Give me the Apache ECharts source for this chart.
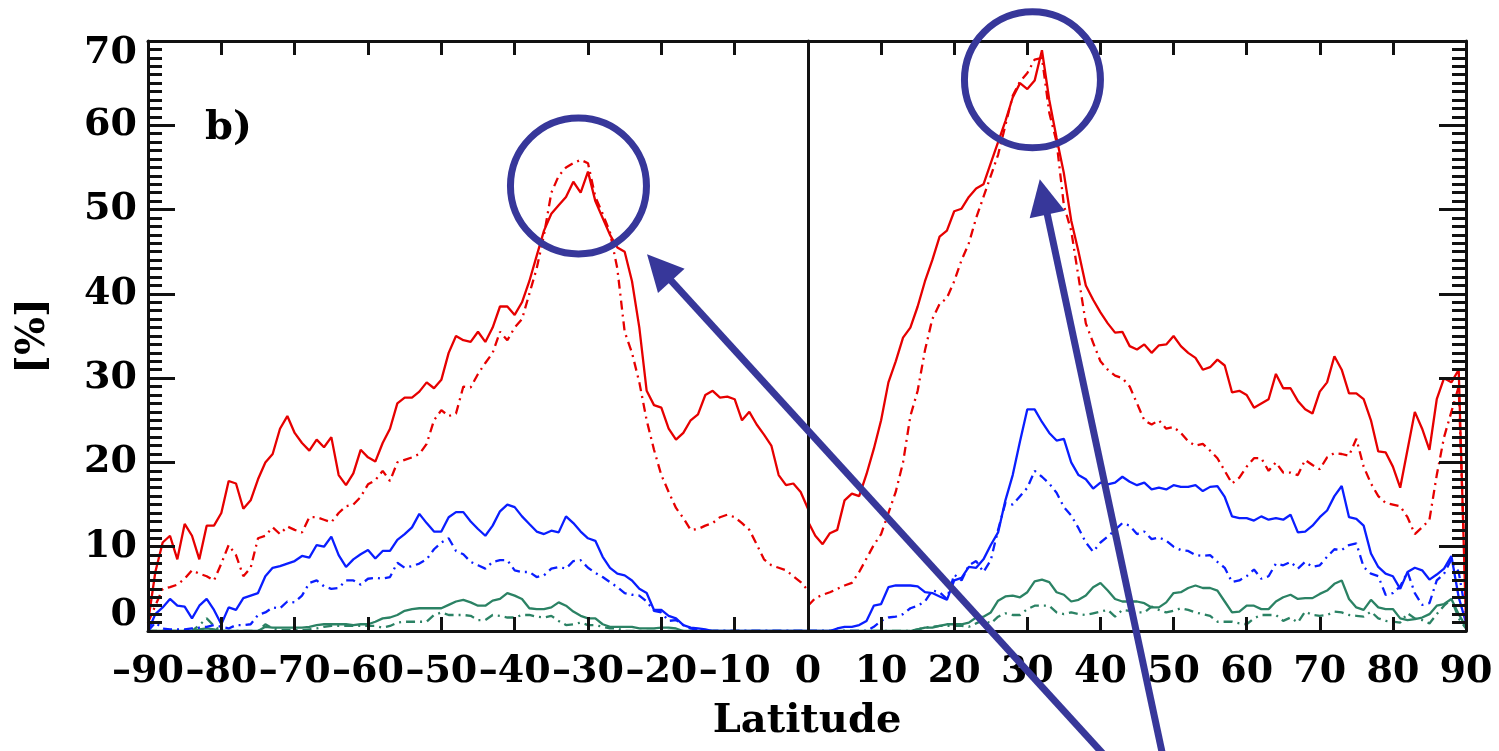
<!DOCTYPE html>
<html>
<head>
<meta charset="utf-8">
<script src="https://cdn.jsdelivr.net/npm/echarts@6/dist/echarts.min.js"></script>
<style>
  html, body { margin: 0; padding: 0; background: #fff; }
  #main { width: 1499px; height: 751px; }
</style>
</head>
<body>
<div id="main"></div>
<script>
// latitudes, southern panel (-90..0) and northern panel (0..90)
var latSouth = [
  -90, -89, -88, -87, -86, -85, -84, -83, -82, -81,
  -80, -79, -78, -77, -76, -75, -74, -73, -72, -71,
  -70, -69, -68, -67, -66, -65, -64, -63, -62, -61,
  -60, -59, -58, -57, -56, -55, -54, -53, -52, -51,
  -50, -49, -48, -47, -46, -45, -44, -43, -42, -41,
  -40, -39, -38, -37, -36, -35, -34, -33, -32, -31,
  -30, -29, -28, -27, -26, -25, -24, -23, -22, -21,
  -20, -19, -18, -17, -16, -15, -14, -13, -12, -11,
  -10, -9, -8, -7, -6, -5, -4, -3, -2, -1,
  0
];
var latNorth = [
  0, 1, 2, 3, 4, 5, 6, 7, 8, 9,
  10, 11, 12, 13, 14, 15, 16, 17, 18, 19,
  20, 21, 22, 23, 24, 25, 26, 27, 28, 29,
  30, 31, 32, 33, 34, 35, 36, 37, 38, 39,
  40, 41, 42, 43, 44, 45, 46, 47, 48, 49,
  50, 51, 52, 53, 54, 55, 56, 57, 58, 59,
  60, 61, 62, 63, 64, 65, 66, 67, 68, 69,
  70, 71, 72, 73, 74, 75, 76, 77, 78, 79,
  80, 81, 82, 83, 84, 85, 86, 87, 88, 89,
  90
];

// [%] values, southern hemisphere
var redSolidS = [
  1, 7, 10.5, 11.3, 8.5, 12.7, 11.3, 8.5, 12.5, 12.5,
  14, 17.8, 17.5, 14.5, 15.5, 18, 20, 21, 24, 25.5,
  23.5, 22.3, 21.4, 22.7, 21.8, 23, 18.5, 17.3, 18.7, 21.5,
  20.6, 20.1, 22.3, 24, 27, 27.7, 27.7, 28.4, 29.5, 28.8,
  29.8, 33, 35, 34.5, 34.3, 35.5, 34.3, 36, 38.5, 38.5,
  37.5, 39, 41.5, 44.5, 47.5, 49.5, 50.5, 51.5, 53.3, 52,
  54.5, 51, 49, 47, 45.5, 45, 41.5, 36, 28.5, 26.8,
  26.5, 24, 22.7, 23.5, 25, 25.7, 28, 28.5, 27.7, 27.8,
  27.5, 25, 26, 24.5, 23.3, 22, 18.5, 17.3, 17.5, 16.5,
  14.5
];
var redDashS = [
  1, 3, 5, 5.2, 5.5, 6.2, 7.2, 6.8, 6.5, 6,
  8, 10.2, 9, 6.5, 7.5, 11, 11.3, 12.3, 11.5, 12.4,
  12, 11.7, 13.5, 13.5, 13.2, 12.9, 14, 14.8, 15, 15.9,
  17.4, 17.9, 19, 17.8, 20, 20.3, 20.6, 21, 22.2, 25,
  26.2, 25.5, 25.8, 29, 28.9, 30.5, 31.8, 33, 35.5, 34.5,
  36, 37, 40, 43, 47, 52, 54, 55, 55.5, 55.9,
  55.5, 51.5, 49.5, 47.3, 43, 35.5, 33, 29.5, 25, 21.5,
  18.5, 16.5, 14.6, 13.4, 12, 12.1, 12.5, 12.8, 13.5, 13.8,
  13.5, 12.8, 12, 10.3, 8.5, 7.8, 7.5, 7.2, 6.5, 5.8,
  4.8
];
var blueSolidS = [
  0, 2, 2.8, 3.8, 3, 2.9, 1.5, 3, 3.8, 2.5,
  0.8, 2.8, 2.5, 3.9, 4.2, 4.5, 6.5, 7.5, 7.7, 8,
  8.3, 8.9, 8.7, 10.2, 10, 11.2, 9, 7.6, 8.5, 9.1,
  9.6, 8.6, 9.5, 9.5, 10.8, 11.5, 12.3, 13.9, 12.8, 11.8,
  11.8, 13.5, 14.1, 14.1, 13, 12.1, 11.3, 12.5, 14.2, 15,
  14.7, 13.6, 12.7, 11.8, 11.5, 11.9, 11.7, 13.6, 12.8, 11.8,
  11, 10.7, 8.8, 7.5, 6.8, 6.6, 6, 5, 4.5, 2.5,
  2.5, 1.8, 1.5, 0.7, 0.4, 0.3, 0.2, 0, 0, 0,
  0, 0, 0, 0, 0, 0, 0, 0, 0, 0,
  0
];
var blueDashS = [
  0, 1, 0.3, 0.2, 0.2, 0.2, 0.3, 0.4, 0.5, 0.7,
  0.5, 0.3, 0.7, 0.7, 0.8, 1.9, 2.2, 2.8, 2.7, 3.5,
  3.4, 4.2, 5.7, 6, 5.3, 5, 5.1, 6, 6, 5.5,
  6.2, 6.3, 6.2, 6.4, 8.1, 7.5, 7.7, 8, 8.5, 9.7,
  10.5, 11, 9.5, 9.1, 8.2, 7.8, 7.4, 8.2, 8.4, 8.4,
  7.2, 7, 7, 6.4, 6.6, 7.4, 7.6, 7.4, 8.3, 8.4,
  7.5, 6.9, 6.4, 5.8, 5.2, 4.5, 4.3, 4.2, 3.5, 2.4,
  2.2, 1.2, 1.3, 0.7, 0.3, 0.1, 0, 0, 0, 0,
  0, 0, 0, 0, 0, 0, 0, 0, 0, 0,
  0
];
var greenSolidS = [
  0, 0, 0, 0, 0, 0, 0, 0.2, 0.3, 0.2,
  0, 0, 0, 0, 0, 0, 0.5, 0.4, 0.4, 0.4,
  0.4, 0.4, 0.5, 0.7, 0.8, 0.8, 0.8, 0.8, 0.7, 0.8,
  0.8, 1.1, 1.5, 1.6, 1.9, 2.4, 2.6, 2.7, 2.7, 2.7,
  2.7, 3.1, 3.5, 3.7, 3.4, 3, 3, 3.6, 3.8, 4.5,
  4.2, 3.8, 2.7, 2.6, 2.6, 2.8, 3.4, 3, 2.3, 1.8,
  1.5, 1.5, 0.8, 0.5, 0.5, 0.5, 0.5, 0.3, 0.3, 0.3,
  0.4, 0.4, 0.3, 0, 0, 0, 0, 0, 0, 0,
  0, 0, 0, 0, 0, 0, 0, 0, 0, 0,
  0
];
var greenDashS = [
  0, 0, 0, 0, 0, 0, 0, 0.7, 1.5, 0.6,
  0, 0, 0, 0, 0, 0, 0.8, 0.3, 0.1, 0.1,
  0.1, 0.1, 0.2, 0.3, 0.5, 0.6, 0.6, 0.6, 0.6, 0.6,
  0.6, 0.6, 0.4, 0.6, 1, 1.1, 1.1, 1.1, 1.1, 1.9,
  2.2, 1.9, 1.9, 1.9, 1.8, 1.3, 1.3, 1.9, 1.8, 1.6,
  1.6, 1.9, 1.9, 1.7, 1.6, 1.8, 1.2, 0.7, 0.8, 1,
  0.7, 0.7, 0.5, 0.3, 0.3, 0, 0, 0, 0, 0,
  0, 0, 0, 0, 0, 0, 0, 0, 0, 0,
  0, 0, 0, 0, 0, 0, 0, 0, 0, 0,
  0
];

// [%] values, northern hemisphere
var redSolidN = [
  13, 11.3, 10.3, 11.6, 12, 15.5, 16.3, 16, 18.6, 21.6,
  25, 29.5, 32, 34.8, 36, 38.5, 41.5, 44, 46.8, 47.5,
  49.8, 50.1, 51.5, 52.5, 53, 55.5, 58, 60.5, 63.3, 65,
  64.3, 65.3, 68.9, 63, 58.5, 54.3, 48.7, 45, 41, 39.3,
  37.8, 36.5, 35.4, 35.5, 33.8, 33.4, 34, 33, 33.9, 34,
  35, 33.8, 33, 32.4, 31, 31.3, 32.2, 31.5, 28.3, 28.5,
  28, 26.5, 27, 27.5, 30.5, 28.8, 28.8, 27.3, 26.3, 25.8,
  28.4, 29.5, 32.6, 31, 28.2, 28.2, 27.5, 25, 21.3, 21.2,
  19.5, 17, 21.5, 26, 24, 21.5, 27.5, 30, 29.5, 31,
  1
];
var redDashN = [
  3, 3.9, 4.3, 4.6, 5, 5.4, 5.7, 7, 8.6, 10.2,
  11.5, 14, 16.5, 20, 25.5, 28.5, 33.3, 37, 38.8, 39.5,
  41.5, 44, 46, 49, 51.5, 54, 56.5, 60, 63.5, 65.2,
  66.2, 67.8, 68, 61.5, 58, 50.5, 47.5, 42, 36.5, 34.2,
  32, 31, 30.3, 30, 29, 27, 25, 24.5, 25, 24,
  24.2, 23.5, 22.5, 22, 22.2, 21.4, 20.5, 19, 17.5, 18.2,
  19.5, 20.5, 20.5, 19, 20, 18.8, 18.8, 18.5, 20.3, 19.7,
  19.2, 20.6, 21.1, 21, 20.8, 22.8, 19.5, 17.5, 16, 15.2,
  15, 14.8, 13.5, 11.5, 12.3, 13.2, 18.5, 23, 26, 29,
  3
];
var blueSolidN = [
  0, 0, 0, 0, 0.3, 0.5, 0.5, 0.7, 1.2, 3,
  3.2, 5.2, 5.4, 5.4, 5.4, 5.3, 4.6, 4.5, 4.1, 3.7,
  6, 6.3, 7.6, 7.5, 8.5, 10.2, 11.7, 15.5, 18.5, 22.5,
  26.3, 26.3, 24.8, 23.5, 22.6, 22.8, 20, 18.5, 18, 16.9,
  17.6, 17.4, 17.6, 18.3, 17.7, 17.3, 17.6, 16.8, 17, 16.8,
  17.3, 17.1, 17.1, 17.3, 16.6, 17.1, 17.2, 15.9, 13.6, 13.4,
  13.4, 13.1, 13.6, 13.2, 13.4, 13.2, 13.8, 11.7, 11.8, 12.5,
  13.5, 14.3, 16, 17.2, 13.5, 13.3, 12.5, 9.2, 7.6, 6.8,
  6.5, 5, 7, 7.5, 7.2, 6.1, 6.7, 7.4, 8.9, 4,
  1
];
var blueDashN = [
  0, 0, 0, 0, 0, 0, 0, 0, 0, 0.5,
  1.2, 1.6, 1.7, 2, 2.7, 3, 3.5, 4.8, 4.6, 3.8,
  6.7, 6, 7.8, 8.3, 7, 8.4, 12, 15.2, 15, 16,
  17, 19, 18.3, 17.5, 16.4, 14.7, 13.7, 12.2, 10.5, 9.4,
  10.5, 11.2, 12, 12.8, 12.5, 11.5, 11.8, 10.9, 11.1, 10.7,
  10, 9.6, 9.5, 9, 8.9, 9, 8.2, 7.5, 5.8, 6,
  6.5, 7.3, 6.2, 6.5, 8, 7.8, 8.2, 7.4, 8.2, 7.6,
  7.8, 8.8, 9.7, 9.6, 10.2, 10.4, 7.6, 6.8, 6.5, 4.3,
  4.5, 5.3, 7, 4.5, 3.1, 3.3, 6, 6.8, 8.5, 7,
  2
];
var greenSolidN = [
  0, 0, 0, 0, 0, 0, 0, 0, 0, 0,
  0, 0, 0, 0, 0, 0.2, 0.4, 0.4, 0.6, 0.8,
  0.8, 0.8, 1, 1.6, 1.7, 2.2, 3.6, 4.1, 4.2, 4,
  4.6, 5.9, 6.1, 5.8, 4.6, 4.3, 3.5, 3.7, 4.2, 5.2,
  5.7, 4.8, 3.8, 3.5, 3.5, 3.5, 3.3, 2.8, 2.8, 3.4,
  4.5, 4.6, 5.1, 5.4, 5.1, 5.1, 4.8, 3.5, 2.2, 2.3,
  3, 3, 2.6, 2.6, 3.5, 4, 4.3, 3.8, 3.9, 3.9,
  4.4, 4.8, 5.6, 6, 3.8, 2.8, 2.5, 3.7, 2.8, 2.6,
  2.6, 1.5, 1.3, 1.4, 1.6, 2, 3, 3.2, 3.8, 2,
  0.5
];
var greenDashN = [
  0, 0, 0, 0, 0, 0, 0, 0, 0, 0,
  0, 0, 0, 0, 0, 0.2, 0.4, 0.5, 0.6, 0.6,
  0.6, 0.6, 0.5, 0.9, 1.3, 0.9, 1.7, 2.1, 1.9, 1.9,
  2.6, 3, 3, 3, 2.2, 2, 2.2, 2, 1.9, 2.1,
  2.3, 2.5, 1.7, 2.5, 2.4, 2.2, 2.2, 2.9, 2.5, 2.2,
  2.4, 2.7, 2.5, 2.2, 2, 1.8, 1.1, 1.1, 1.1, 0.9,
  0.8, 1.5, 1.9, 1.9, 1.9, 1.2, 1.6, 1, 2.3, 1.9,
  1.8, 1.9, 2.3, 2.2, 1.9, 1.8, 1.7, 2.3, 1.5, 1.2,
  1.1, 1, 2.1, 1.5, 1.3, 0.9, 2, 3, 3.8, 1.5,
  0.3
];

// annotations, in data units [latitude, %]
var circleCentres = [[-31.3, 52.8], [30.7, 65.4]];
var circlePanels = [0, 1];
var arrowTips = [[-21.95, 44.7], [31.7, 53.6]];
var arrowTipPanels = [0, 1];
var arrowTails = [[42.6, -16.7], [48.8, -15.9]];

var RED = '#e60000', BLUE = '#0a1eff', GREEN = '#2b8264', MARK = '#37379a';
var INK = '#111';
var DASHDOT = [9, 5, 2, 5];
var FONT = 'DejaVu Serif';

function line(xi, yi, lat, vals, color, dashed) {
  return {
    type: 'line',
    xAxisIndex: xi,
    yAxisIndex: yi,
    data: lat.map(function (x, i) { return [x, vals[i]]; }),
    symbol: 'none',
    z: 2,
    lineStyle: { color: color, width: 2.3, type: dashed ? DASHDOT : 'solid' }
  };
}

var labelFont = { fontFamily: FONT, fontSize: 38, fontWeight: 'bold', color: '#000' };

function xAxis(grid, pos, min, max, labels) {
  return {
    type: 'value', gridIndex: grid, position: pos, min: min, max: max, interval: 10, z: 10,
    axisLine: { show: true, onZero: false, lineStyle: { color: INK, width: 3 } },
    axisTick: { show: true, inside: true, length: 14, lineStyle: { color: INK, width: 3 } },
    axisLabel: labels ? Object.assign({ show: true, margin: 22, showMinLabel: true, showMaxLabel: true, formatter: labels }, labelFont) : { show: false },
    splitLine: { show: false }
  };
}

function yAxis(grid, pos, showLine, ticks, labels) {
  var ax = {
    type: 'value', gridIndex: grid, position: pos, min: 0, max: 70, interval: 10, z: 10,
    axisLine: { show: showLine, onZero: false, lineStyle: { color: INK, width: 3 } },
    axisTick: { show: ticks, inside: true, length: 27, lineStyle: { color: INK, width: 3 } },
    minorTick: { show: ticks, splitNumber: 10, length: 14, lineStyle: { color: INK, width: 3 } },
    axisLabel: { show: false },
    splitLine: { show: false }
  };
  if (labels) {
    ax.axisLabel = Object.assign({
      show: true, margin: 11, showMinLabel: true, showMaxLabel: true,
      formatter: function (v) {
        if (v === 0) return '{lo|0}';
        if (v === 70) return '{hi|70}';
        return String(v);
      },
      rich: {
        lo: Object.assign({ lineHeight: 8, padding: [0, 0, 32, 0] }, labelFont),
        hi: Object.assign({ lineHeight: 8, padding: [24, 0, 0, 0] }, labelFont)
      }
    }, labelFont);
    ax.name = '[%]';
    ax.nameLocation = 'middle';
    ax.nameRotate = 90;
    ax.nameGap = 94;
    ax.nameTextStyle = { fontFamily: FONT, fontSize: 40, fontWeight: 'bold', color: '#000' };
  }
  return ax;
}

var chart = echarts.init(document.getElementById('main'));

var option = {
  animation: false,
  grid: [
    { left: 148, top: 41, width: 660, height: 590 },
    { left: 808, top: 41, width: 658, height: 590 }
  ],
  xAxis: [
    xAxis(0, 'bottom', -90, 0, function (v) { return v === 0 ? '0' : '\u2013' + Math.abs(v); }),
    xAxis(0, 'top', -90, 0, null),
    xAxis(1, 'bottom', 0, 90, function (v) { return v === 0 ? '' : String(v); }),
    xAxis(1, 'top', 0, 90, null)
  ],
  yAxis: [
    yAxis(0, 'left', true, true, true),
    yAxis(0, 'right', true, false, false),
    yAxis(1, 'left', false, false, false),
    yAxis(1, 'right', true, true, false)
  ],
  series: [
    line(0, 0, latSouth, greenDashS, GREEN, true),
    line(0, 0, latSouth, greenSolidS, GREEN, false),
    line(0, 0, latSouth, blueDashS, BLUE, true),
    line(0, 0, latSouth, blueSolidS, BLUE, false),
    line(0, 0, latSouth, redDashS, RED, true),
    line(0, 0, latSouth, redSolidS, RED, false),
    line(2, 2, latNorth, greenDashN, GREEN, true),
    line(2, 2, latNorth, greenSolidN, GREEN, false),
    line(2, 2, latNorth, blueDashN, BLUE, true),
    line(2, 2, latNorth, blueSolidN, BLUE, false),
    line(2, 2, latNorth, redDashN, RED, true),
    line(2, 2, latNorth, redSolidN, RED, false)
  ]
};
chart.setOption(option);

// panel texts and the circle / arrow annotations
function px(panel, pt) {
  return chart.convertToPixel({ seriesIndex: panel * 6 }, pt);
}
var graphics = [
  { type: 'text', z: 50, style: { text: 'b)', x: 205, y: 129, textAlign: 'left', textVerticalAlign: 'middle',
      font: 'bold 40px "DejaVu Serif"', fill: '#000' } },
  { type: 'text', z: 50, style: { text: 'Latitude', x: 807, y: 722, textAlign: 'center', textVerticalAlign: 'middle',
      font: 'bold 40px "DejaVu Serif"', fill: '#000' } }
];
circleCentres.forEach(function (c, i) {
  var p = px(circlePanels[i], c);
  graphics.push({ type: 'circle', z: 60, silent: true, shape: { cx: p[0], cy: p[1], r: 68 },
    style: { fill: 'none', stroke: MARK, lineWidth: 7 } });
});
arrowTips.forEach(function (t, i) {
  var tip = px(arrowTipPanels[i], t);
  var tail = px(1, arrowTails[i]);
  var dx = tip[0] - tail[0], dy = tip[1] - tail[1];
  var len = Math.sqrt(dx * dx + dy * dy);
  var ux = dx / len, uy = dy / len;
  var bx = tip[0] - ux * 36, by = tip[1] - uy * 36;
  graphics.push({ type: 'line', z: 60, silent: true,
    shape: { x1: tail[0], y1: tail[1], x2: bx + ux * 4, y2: by + uy * 4 },
    style: { stroke: MARK, lineWidth: 7 } });
  graphics.push({ type: 'polygon', z: 60, silent: true,
    shape: { points: [[tip[0], tip[1]], [bx - uy * 18, by + ux * 18], [bx + uy * 18, by - ux * 18]] },
    style: { fill: MARK } });
});
chart.setOption({ graphic: graphics });
</script>
</body>
</html>
